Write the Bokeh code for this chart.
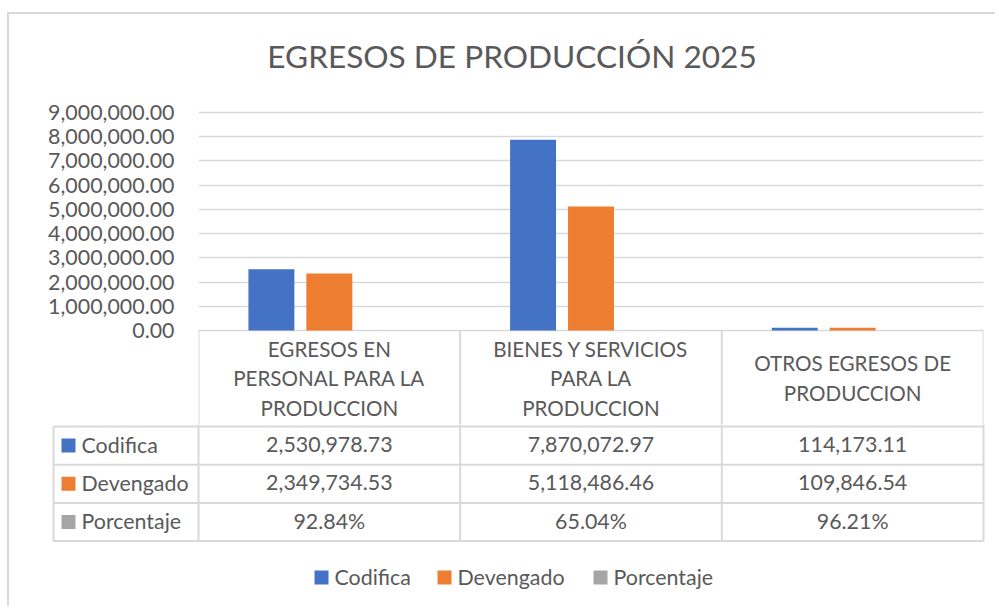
from bokeh.plotting import figure
from bokeh.layouts import column
from bokeh.models import Range1d, FixedTicker, NumeralTickFormatter
from bokeh.core.properties import value
from bokeh.embed import file_html
from bokeh.resources import INLINE

# ---------------- data ----------------
title_text = "EGRESOS DE PRODUCCIÓN 2025"
categories = [
    "EGRESOS EN\nPERSONAL PARA LA\nPRODUCCION",
    "BIENES Y SERVICIOS\nPARA LA\nPRODUCCION",
    "OTROS EGRESOS DE\nPRODUCCION",
]
series_names = ["Codifica", "Devengado", "Porcentaje"]
series_colors = ["#4472C4", "#ED7D31", "#A5A5A5"]
codifica = [2530978.73, 7870072.97, 114173.11]
devengado = [2349734.53, 5118486.46, 109846.54]
porcentaje = [0.9284, 0.6504, 0.9621]
y_ticks = [0, 1000000, 2000000, 3000000, 4000000, 5000000,
           6000000, 7000000, 8000000, 9000000]

# ---------------- style ----------------
FONT = "Lato"
TXT = "#595959"
GRID = "#d9d9d9"
FS = "21.4px"
FS_HDR = "20.6px"
FS_TITLE = "31.6px"

series_values = [codifica, devengado, porcentaje]
n_cat = len(categories)
y_max = max(y_ticks)

# page geometry (pixels)
OX, OY = 9, 14            # content origin of the layout
F_L, F_R = 198, 983       # plot frame left / right
Y_TOP, Y_ZERO = 112, 330  # y of y_max, y of zero
TITLE_Y, TITLE_X = 55, 511.5
SPLIT = 424               # bottom of chart canvas / top of lower canvas
BOTTOM = 606

W = F_R + 12 - OX
H1 = SPLIT - OY
upp = y_max / (Y_ZERO - Y_TOP)          # data units per pixel
y_hi = y_max + (Y_TOP - OY) * upp
y_lo = -(SPLIT - Y_ZERO) * upp
col_w = (F_R - F_L) / n_cat

# ---------------- chart ----------------
p1 = figure(width=W, height=H1, x_range=Range1d(0, n_cat),
            y_range=Range1d(y_lo, y_hi),
            x_axis_location=None, output_backend="svg", toolbar_location=None,
            min_border_left=F_L - OX, min_border_right=12,
            min_border_top=0, min_border_bottom=0)
p1.frame_align = False
p1.outline_line_color = None
p1.xgrid.visible = False
p1.ygrid.ticker = FixedTicker(ticks=y_ticks)
p1.ygrid.grid_line_color = GRID
p1.ygrid.grid_line_width = 1.5
ax = p1.yaxis[0]
ax.ticker = FixedTicker(ticks=y_ticks)
ax.formatter = NumeralTickFormatter(format="0,0.00")
ax.axis_line_color = None
ax.major_tick_line_color = None
ax.minor_tick_line_color = None
ax.major_tick_out = 0
ax.major_label_standoff = 24
ax.major_label_text_font = FONT
ax.major_label_text_font_size = FS
ax.major_label_text_color = TXT

bar_w = 0.1756
offsets = [-0.2214, 0.0, 0.2214]
for k in range(len(series_names)):
    xs = [i + 0.5 + offsets[k] for i in range(n_cat)]
    p1.vbar(x=xs, top=series_values[k], width=bar_w,
            fill_color=series_colors[k], line_color=None)

# chart title
p1.text(x=[(TITLE_X - F_L) / col_w], y=[(Y_ZERO - TITLE_Y) * upp], text=[title_text],
        text_align="center", text_baseline="middle",
        text_font=value(FONT), text_font_size=FS_TITLE, text_color=TXT)

# data-table header: column separators below the zero line
p1.segment(x0=list(range(n_cat + 1)), y0=[0] * (n_cat + 1),
           x1=list(range(n_cat + 1)), y1=[y_lo] * (n_cat + 1),
           line_color=GRID, line_width=2)

# data-table header: category names under each group
hdr_t, hdr_b = 331, 426
hx, hy, ht = [], [], []
cy = (hdr_t + hdr_b) / 2
for i, cat in enumerate(categories):
    lines = cat.split("\n")
    n = len(lines)
    for j, ln in enumerate(lines):
        ypx = cy - 1 + (j - (n - 1) / 2) * 29.5
        hx.append(i + 0.5)
        hy.append((Y_ZERO - ypx) * upp)
        ht.append(ln)
p1.text(x=hx, y=hy, text=ht, text_align="center", text_baseline="middle",
        text_font=value(FONT), text_font_size=FS_HDR, text_color=TXT)

# ---------------- data table rows + legend ----------------
H2 = BOTTOM - SPLIT
p2 = figure(width=W, height=H2, x_range=Range1d(OX, OX + W),
            y_range=Range1d(BOTTOM, SPLIT),
            x_axis_location=None, y_axis_location=None, output_backend="svg",
            toolbar_location=None, min_border=0)
p2.frame_align = False
p2.outline_line_color = None
p2.xgrid.visible = False
p2.ygrid.visible = False

lab_l = 53
row_h = 38.2
tbl_b = hdr_b + row_h * len(series_names)

x0s, y0s, x1s, y1s = [], [], [], []
for r in range(len(series_names) + 1):
    y = hdr_b + r * row_h
    x0s.append(lab_l); x1s.append(F_R); y0s.append(y); y1s.append(y)
x0s.append(lab_l); x1s.append(lab_l); y0s.append(hdr_b); y1s.append(tbl_b)
for j in range(n_cat + 1):
    x = F_L + j * col_w
    x0s.append(x); x1s.append(x); y0s.append(SPLIT - 1); y1s.append(tbl_b)
p2.segment(x0=x0s, y0=y0s, x1=x1s, y1=y1s, line_color=GRID, line_width=2)

# value rows
vx, vy, vt = [], [], []
for r, vals in enumerate(series_values):
    ry = hdr_b + (r + 0.5) * row_h - 1
    for i, v in enumerate(vals):
        vx.append(F_L + (i + 0.5) * col_w)
        vy.append(ry)
        vt.append(f"{v * 100:.2f}%" if series_names[r] == "Porcentaje" else f"{v:,.2f}")
p2.text(x=vx, y=vy, text=vt, text_align="center", text_baseline="middle",
        text_font=value(FONT), text_font_size=FS, text_color=TXT)

row_ys = [hdr_b + (r + 0.5) * row_h for r in range(len(series_names))]
p2.rect(x=[68] * len(series_names), y=row_ys, width=14, height=14,
        fill_color=series_colors, line_color=None)
p2.text(x=[81] * len(series_names), y=[y - 1 for y in row_ys], text=series_names,
        text_align="left", text_baseline="middle",
        text_font=value(FONT), text_font_size=FS, text_color=TXT)

# legend
leg_y = 577
leg_x = [321, 444, 600]
p2.rect(x=leg_x, y=[leg_y] * 3, width=14, height=14,
        fill_color=series_colors, line_color=None)
p2.text(x=[x + 13 for x in leg_x], y=[leg_y - 1] * 3, text=series_names,
        text_align="left", text_baseline="middle",
        text_font=value(FONT), text_font_size=FS, text_color=TXT)

layout = column(p1, p2, spacing=0)
layout.styles = {"margin": "12px 0px 0px 7px", "border-top": "2px solid #d9d9d9",
                 "border-left": "2px solid #d9d9d9"}

open("out.html", "w").write(file_html(layout, INLINE))
